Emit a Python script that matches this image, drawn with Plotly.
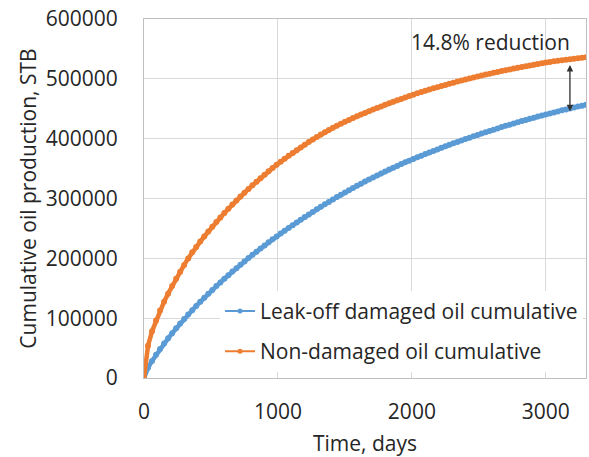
import plotly.graph_objects as go

# Time axis, one sample every 30 days
days = list(range(0, 3301, 30))

# Cumulative oil, STB - fracture-fluid leak-off damaged well
leakoff_cum = [
    0, 17000, 28500, 38700, 48300, 57500, 66300, 74800, 83000, 91000,
    98800, 106200, 113400, 120500, 127400, 134100, 140700, 147200, 153600, 159800,
    165900, 171900, 177800, 183600, 189300, 194900, 200400, 205800, 211100, 216400,
    221600, 226700, 231700, 236600, 241400, 246100, 250800, 255400, 260000, 264500,
    268900, 273300, 277600, 281900, 286100, 290200, 294300, 298300, 302300, 306200,
    310000, 313800, 317500, 321200, 324800, 328300, 331800, 335200, 338600, 341900,
    345100, 348300, 351400, 354500, 357500, 360400, 363300, 366100, 368900, 371600,
    374300, 376900, 379500, 382100, 384700, 387200, 389700, 392200, 394600, 397000,
    399400, 401700, 404000, 406300, 408500, 410700, 412900, 415100, 417200, 419300,
    421400, 423400, 425400, 427400, 429400, 431300, 433200, 435100, 436900, 438700,
    440500, 442200, 443900, 445600, 447300, 448900, 450500, 452100, 453600, 455100,
    456600,
]

# Cumulative oil, STB - undamaged well
nondamaged_cum = [
    0, 54000, 78000, 96000, 113000, 127500, 141000, 153800, 166000, 177700,
    189000, 199900, 210000, 219000, 228000, 236500, 244800, 252800, 260600, 268200,
    275600, 282800, 289800, 296600, 303200, 309600, 315900, 322000, 328000, 333900,
    339700, 345400, 351000, 356400, 361400, 366400, 371300, 376100, 380800, 385400,
    389900, 394300, 398600, 402800, 406900, 410900, 414600, 418200, 421700, 425000,
    428300, 431400, 434500, 437400, 440300, 443100, 445900, 448600, 451300, 453900,
    456500, 459100, 461600, 464100, 466500, 468900, 471200, 473500, 475700, 477900,
    480000, 482100, 484100, 486100, 488000, 489900, 491800, 493600, 495400, 497200,
    498900, 500600, 502300, 503900, 505500, 507100, 508600, 510100, 511600, 513000,
    514400, 515800, 517200, 518500, 519800, 521100, 522400, 523600, 524800, 526000,
    527200, 528200, 529200, 530200, 531100, 532000, 532900, 533700, 534500, 535200,
    535900,
]

series_names = ["Leak-off damaged oil cumulative", "Non-damaged oil cumulative"]
series_colors = ["#5B9BD5", "#ED7D31"]

x_ticks = [0, 1000, 2000, 3000]
y_ticks = [0, 100000, 200000, 300000, 400000, 500000, 600000]

# Gap between the two curves near the end of the forecast
arrow_day = 3180
arrow_top = 525500
arrow_bottom = 446000
reduction_pct = 14.8

FONT = "Open Sans, DejaVu Sans, sans-serif"
TEXT = "#262626"
FS = 21

fig = go.Figure()
for i, (name, ys, color) in enumerate(zip(series_names, [leakoff_cum, nondamaged_cum], series_colors)):
    # dense series drawn as a thick band of overlapping markers
    fig.add_trace(go.Scatter(
        x=days, y=ys, name=name, mode="lines+markers",
        line=dict(color=color, width=4.5),
        marker=dict(color=color, size=6),
        showlegend=False,
    ))
    # legend entry with a thin line and small dot
    fig.add_trace(go.Scatter(
        x=[None], y=[None], name=name, mode="lines+markers",
        line=dict(color=color, width=2),
        marker=dict(color=color, size=5),
        legendgroup=f"g{i}",
    ))

# double-headed arrow between the curves
fig.add_annotation(
    x=arrow_day, y=arrow_bottom, ax=arrow_day, ay=arrow_top,
    xref="x", yref="y", axref="x", ayref="y",
    showarrow=True, arrowhead=2, startarrowhead=2, arrowside="end+start",
    arrowsize=1, startarrowsize=1, arrowwidth=1.3, arrowcolor="#303030", text="",
)
fig.add_annotation(
    x=2590, y=562000, xref="x", yref="y",
    text=f"{reduction_pct}% reduction", showarrow=False,
    font=dict(family=FONT, size=FS, color=TEXT),
)

fig.update_layout(
    width=589, height=457,
    margin=dict(l=144, r=3, t=19, b=79),
    paper_bgcolor="white", plot_bgcolor="white",
    font=dict(family=FONT, size=FS, color=TEXT),
    showlegend=True,
    legend=dict(
        x=0.172, y=0.243, xanchor="left", yanchor="top",
        bgcolor="white", borderwidth=0,
        font=dict(family=FONT, size=FS, color=TEXT),
        tracegroupgap=10, traceorder="grouped",
    ),
    xaxis=dict(
        range=[0, 3300], tickvals=x_ticks, ticks="",
        showgrid=True, gridcolor="#d9d9d9", gridwidth=1,
        showline=True, linecolor="#bfbfbf", linewidth=1, mirror=True,
        zeroline=False, ticklabelstandoff=15,
        title=dict(text="Time, days", font=dict(family=FONT, size=FS, color=TEXT), standoff=13),
    ),
    yaxis=dict(
        range=[0, 600000], tickvals=y_ticks, tickformat="d", ticks="",
        showgrid=True, gridcolor="#d9d9d9", gridwidth=1,
        showline=True, linecolor="#bfbfbf", linewidth=1, mirror=True,
        zeroline=False, ticklabelstandoff=21,
        title=dict(text="Cumulative oil production, STB", font=dict(family=FONT, size=FS, color=TEXT), standoff=3),
    ),
)

fig.write_html("out.html")
